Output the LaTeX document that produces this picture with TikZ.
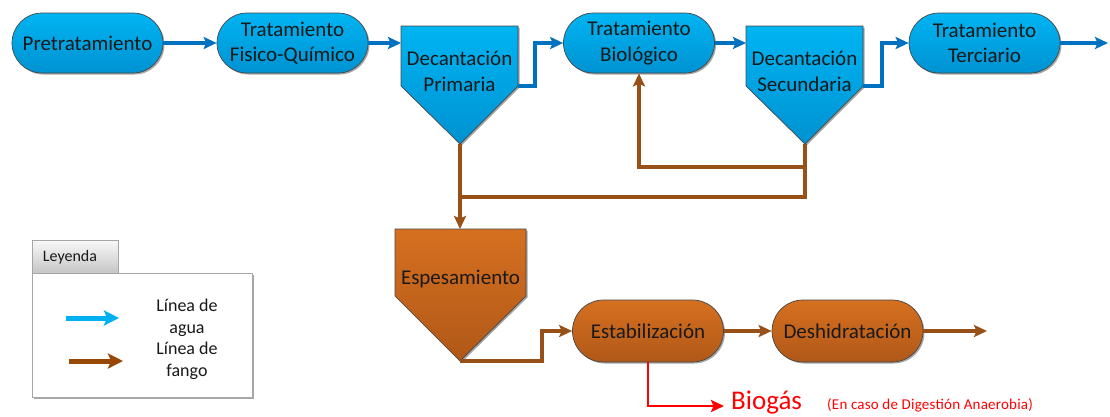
\documentclass[tikz,border=0pt]{standalone}
\usepackage{fontspec}
\setmainfont{Carlito}
\usetikzlibrary{arrows.meta,shadows}
\definecolor{bluefillT}{RGB}{0,180,242}
\definecolor{bluefillB}{RGB}{0,146,210}
\definecolor{waterline}{RGB}{0,112,192}
\definecolor{brownT}{RGB}{214,112,32}
\definecolor{brownB}{RGB}{176,88,24}
\definecolor{sludgecol}{RGB}{150,80,24}
\definecolor{edgecol}{RGB}{70,70,70}
\definecolor{legblue}{RGB}{0,176,240}
\definecolor{legbrown}{RGB}{151,71,6}
\definecolor{textcol}{RGB}{25,25,25}
\tikzset{
  shad/.style={drop shadow={shadow xshift=1.5pt,shadow yshift=-1.5pt,opacity=0.35,fill=black}},
  stadium/.style={rectangle, rounded corners=30pt, minimum width=151pt, minimum height=60pt,
    draw=edgecol, line width=0.7pt, top color=bluefillT, bottom color=bluefillB,
    text=textcol, font=\fontsize{21}{25.5}\selectfont, align=center, inner sep=0pt, shad},
  bstadium/.style={stadium, minimum height=62pt, rounded corners=31pt, top color=brownT, bottom color=brownB},
  tank/.style={draw=edgecol, line width=0.7pt, top color=bluefillT, bottom color=bluefillB, shad},
  btank/.style={tank, top color=brownT, bottom color=brownB},
  tanktext/.style={text=textcol, font=\fontsize{21}{25.5}\selectfont, align=center, inner sep=0pt},
  water/.style={draw=waterline, line width=3.3pt, -{Stealth[length=13pt,width=12pt,inset=2.5pt]}},
  sludge/.style={draw=sludgecol, line width=3.3pt, -{Stealth[length=13pt,width=12pt,inset=2.5pt]}},
  sludgeplain/.style={draw=sludgecol, line width=3.3pt},
  gas/.style={draw=red, line width=2.8pt, -{Stealth[length=13pt,width=12pt,inset=2.5pt]}},
}
\begin{document}
\begin{tikzpicture}[x=1pt,y=-1pt]
\useasboundingbox (0,0) rectangle (1110,416);

% water line nodes
\node[stadium] (pre) at (87.5,43) {Pretratamiento};
\node[stadium] (tfq) at (292.5,43) {Tratamiento\\Fisico-Químico};
\node[stadium] (tb) at (639,43) {Tratamiento\\Biológico};
\node[stadium] (tt) at (984.5,43) {Tratamiento\\Terciario};

% Decantación primaria
\path[tank] (401,26) -- (518,26) -- (518,86) -- (460,144) -- (401,86) -- cycle;
\node[tanktext] (dp) at (459.5,71.5) {Decantación\\Primaria};
\coordinate (dpW) at (401,43);
\coordinate (dpE) at (518,86);
\coordinate (dpS) at (460,144);

% Decantación secundaria
\path[tank] (746,26) -- (863,26) -- (863,86) -- (805,144) -- (746,86) -- cycle;
\node[tanktext] (ds) at (804.5,71.5) {Decantación\\Secundaria};
\coordinate (dsW) at (746,43);
\coordinate (dsE) at (863,86);
\coordinate (dsS) at (805,144);

% Espesamiento
\path[btank] (395,229) -- (526,229) -- (526,296) -- (460,361) -- (395,296) -- cycle;
\node[tanktext] (esp) at (460.5,279) {Espesamiento};
\coordinate (espN) at (460,229);
\coordinate (espS) at (460,361);

% sludge line nodes
\node[bstadium] (est) at (648,331) {Estabilización};
\node[bstadium] (desh) at (847.5,331) {Deshidratación};

% water connectors
\draw[water] (pre) -- (tfq);
\draw[water] (tfq) -- (dpW);
\draw[water] (dpE) -- ++(17,0) |- (tb.west);
\draw[water] (tb) -- (dsW);
\draw[water] (dsE) -- ++(19,0) |- (tt.west);
\coordinate (ttout) at (1108,43);
\draw[water] (tt) -- (ttout);

% sludge connectors
\coordinate (join) at (460,197);
\coordinate (ret) at (805,167);
\draw[sludge] (dpS) -- (espN);
\draw[sludgeplain] (dsS) |- (join);
\draw[sludge] (ret) -| (tb.south);
\draw[sludge] (espS) -- ++(82,0) |- (est.west);
\draw[sludge] (est) -- (desh);
\coordinate (deshout) at (987,331);
\draw[sludge] (desh) -- (deshout);

% biogas
\coordinate (gasend) at (724,406);
\draw[gas] (est.south) |- (gasend);
\node[anchor=west, inner sep=0pt, text=red, font=\fontsize{27}{30}\selectfont] (bio) at (731,403) {Biogás};
\node[anchor=west, inner sep=0pt, text=red, font=\fontsize{15}{18}\selectfont\addfontfeatures{LetterSpace=1.5}] (note) at (827,405) {(En caso de Digestión Anaerobia)};

% legend
\path[draw=gray!70, line width=0.7pt, fill=white, shad] (32,273) rectangle (252,397);
\path[draw=gray!70, line width=0.7pt, top color=gray!5, bottom color=gray!45] (32,240) rectangle (118,273);
\node[inner sep=0pt, text=textcol, font=\fontsize{16}{19}\selectfont] (leg) at (70,257) {Leyenda};
\coordinate (lw1) at (66,318);
\coordinate (lw2) at (119,318);
\coordinate (lb1) at (69,361);
\coordinate (lb2) at (123,361);
\draw[draw=legblue, line width=5pt, -{Stealth[length=15pt,width=15pt,inset=3pt]}] (lw1) -- (lw2);
\draw[draw=legbrown, line width=5pt, -{Stealth[length=15pt,width=15pt,inset=3pt]}] (lb1) -- (lb2);
\node[inner sep=0pt, align=center, text=textcol, font=\fontsize{18}{22}\selectfont] (lwt) at (187,318) {Línea de\\agua};
\node[inner sep=0pt, align=center, text=textcol, font=\fontsize{18}{22}\selectfont] (lbt) at (187,361) {Línea de\\fango};
\end{tikzpicture}
\end{document}
